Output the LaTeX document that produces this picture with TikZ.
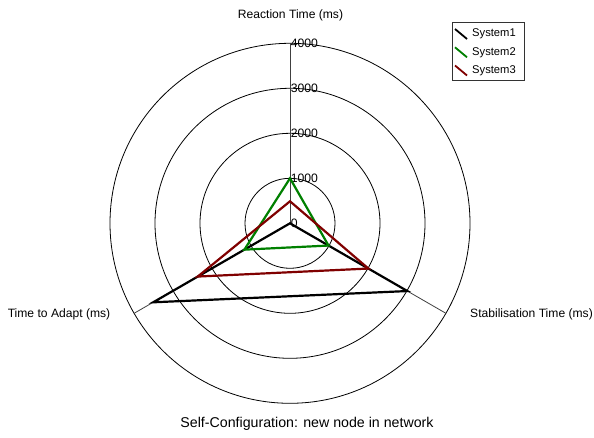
\documentclass[tikz,border=0pt]{standalone}
\usepackage{fontspec}
\setmainfont{Liberation Sans}
\begin{document}
\begin{tikzpicture}[x=1pt,y=1pt,
  ring/.style={draw=black,line width=0.8pt},
  axisline/.style={draw=black!75,line width=0.8pt},
  series/.style={line width=2.2pt,line join=miter},
  lbl/.style={font=\fontsize{12.1}{14}\selectfont,inner sep=0pt},
  leg/.style={font=\fontsize{11.2}{13}\selectfont,inner sep=0pt,anchor=west},
  tick/.style={font=\fontsize{12.2}{14}\selectfont,inner sep=0.6pt,anchor=west},
  title/.style={font=\fontsize{14.2}{16}\selectfont,inner sep=0pt}]
\definecolor{sysone}{RGB}{0,0,0}
\definecolor{systwo}{RGB}{0,128,0}
\definecolor{systhree}{RGB}{128,0,0}
\useasboundingbox (0,0) rectangle (594,437);
\fill[white] (0,0) rectangle (594,437);

\coordinate (c) at (290,213.7);
\begin{scope}[shift={(c)}]
  % rings every 1000 ms (45 units per 1000 ms)
  \foreach \r in {45,90,135,180} \draw[ring] (0,0) circle[radius=\r];
  % axes
  \coordinate (aR) at (90:180);
  \coordinate (aS) at (-30:180);
  \coordinate (aA) at (210:180);
  \draw[axisline] (c) -- (aR);
  \draw[axisline] (c) -- (aS);
  \draw[axisline] (c) -- (aA);
  % tick labels
  \node[tick] (t0) at (90:0) {0};
  \node[tick] (t1) at (90:45) {1000};
  \node[tick] (t2) at (90:90) {2000};
  \node[tick] (t3) at (90:135) {3000};
  \node[tick] (t4) at (90:180) {4000};
  % data points
  \coordinate (p1r) at (90:0);
  \coordinate (p1s) at (-30:135.5);
  \coordinate (p1a) at (210:158);
  \coordinate (p2r) at (90:45);
  \coordinate (p2s) at (-30:44.5);
  \coordinate (p2a) at (210:52.7);
  \coordinate (p3r) at (90:22);
  \coordinate (p3s) at (-30:90.5);
  \coordinate (p3a) at (210:106.5);
  \draw[series,sysone] (p1r) -- (p1s) -- (p1a) -- cycle;
  \draw[series,systwo] (p2r) -- (p2s) -- (p2a) -- cycle;
  \draw[series,systhree] (p3r) -- (p3s) -- (p3a) -- cycle;
\end{scope}

% axis titles
\node[lbl] (lR) at (290.5,422) {Reaction Time (ms)};
\node[lbl] (lA) at (59,123) {Time to Adapt (ms)};
\node[lbl] (lS) at (531.5,123) {Stabilisation Time (ms)};
\node[title] (ttl) at (307,13.5) {Self-Configuration: new node in network};

% legend
\draw[black!80,line width=0.9pt] (452.7,357) rectangle (524.3,414.3);
\foreach \y/\col/\name in {403/sysone/System1,384.7/systwo/System2,366.5/systhree/System3}{
  \coordinate (ls\name) at (455,\y+5);
  \coordinate (le\name) at (467,\y-5);
  \draw[\col,line width=1.8pt] (ls\name) -- (le\name);
  \node[leg] (n\name) at (472,\y) {\name};
}
\end{tikzpicture}
\end{document}
